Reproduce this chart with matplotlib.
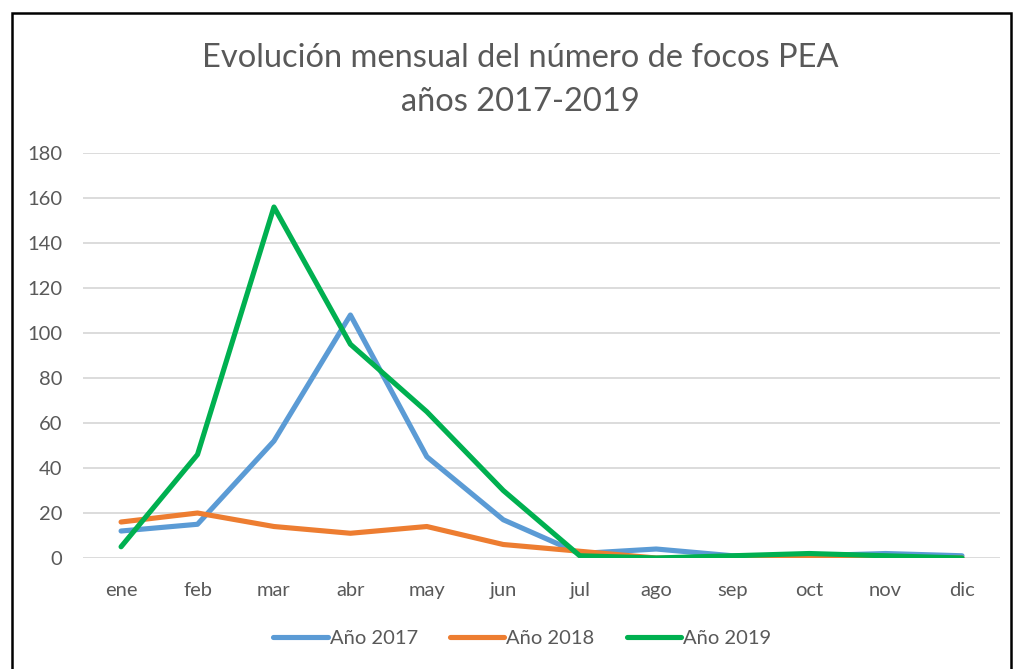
import numpy as np
import matplotlib.pyplot as plt
from matplotlib.patches import Rectangle

meses = ['ene', 'feb', 'mar', 'abr', 'may', 'jun', 'jul', 'ago', 'sep', 'oct', 'nov', 'dic']
focos_2017 = [12, 15, 52, 108, 45, 17, 2, 4, 1, 1, 2, 1]
focos_2018 = [16, 20, 14, 11, 14, 6, 3, 0, 0, 1, 0, 0]
focos_2019 = [5, 46, 156, 95, 65, 30, 1, 0, 1, 2, 1, 0]

series = [('Año 2017', focos_2017, '#5b9bd5'),
          ('Año 2018', focos_2018, '#ed7d31'),
          ('Año 2019', focos_2019, '#00b050')]

plt.rcParams['font.family'] = ['Lato', 'DejaVu Sans']
gris = '#595959'

fig = plt.figure(figsize=(10.14, 6.69), dpi=100)
ax = fig.add_axes([0.0817, 0.1659, 0.9047, 0.6054])

x = np.arange(len(meses))
for nombre, datos, color in series:
    ax.plot(x, datos, color=color, linewidth=3.7, label=nombre,
            solid_capstyle='round', solid_joinstyle='round')

ax.set_xlim(-0.5, len(meses) - 0.5)
ax.set_ylim(0, 180)
ax.set_yticks(np.arange(0, 181, 20))
ax.set_xticks(x)
ax.set_xticklabels(meses)
ax.grid(axis='y', color='#d9d9d9', linewidth=1.3)
ax.set_axisbelow(True)
for s in ax.spines.values():
    s.set_visible(False)
ax.tick_params(length=0, labelsize=14.5, colors=gris, pad=17)
ax.tick_params(axis='y', pad=15)

fig.text(0.513, 0.914, 'Evolución mensual del número de focos PEA', ha='center', va='center',
         fontsize=23.5, color=gris)
fig.text(0.513, 0.847, 'años 2017-2019', ha='center', va='center', fontsize=23.5, color=gris)

fig.legend(loc='center', bbox_to_anchor=(0.515, 0.046), ncol=3, frameon=False,
           fontsize=14.5, labelcolor=gris, handlelength=2.7, handletextpad=0.1,
           columnspacing=1.6)

fig.patches.append(Rectangle((12 / 1014, -0.05), 999 / 1014, 1.05 - 13 / 669,
                             transform=fig.transFigure, fill=False,
                             edgecolor='black', linewidth=1.8))

fig.savefig('out.png', dpi=100)
